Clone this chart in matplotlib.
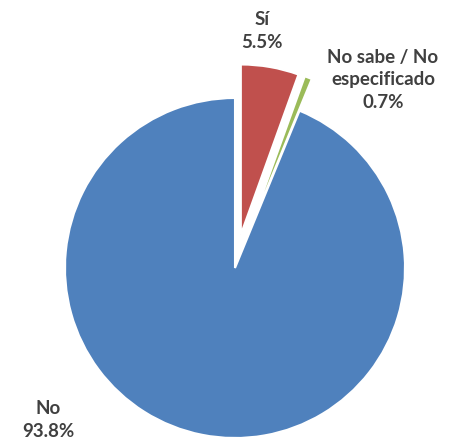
import matplotlib.pyplot as plt

# data
labels = ["Sí", "No sabe / No\nespecificado", "No"]
values = [5.5, 0.7, 93.8]
colors = ["#C0504D", "#9BBB59", "#4F81BD"]
explode_frac = [0.2, 0.2, 0.0]

W, H = 449, 446
fig = plt.figure(figsize=(W / 100, H / 100), dpi=100)
ax = fig.add_axes([0, 0, 1, 1])

R = 170
# pie's explode offset is in data units, so scale it by the radius
wedges, _ = ax.pie(values, colors=colors, explode=[e * R for e in explode_frac],
                   startangle=90, counterclock=False, radius=R,
                   center=(235, H - 268),
                   wedgeprops=dict(edgecolor="white", linewidth=1.5))
ax.set_xlim(0, W)
ax.set_ylim(0, H)
ax.set_aspect("equal")
ax.axis("off")

# label positions (pixels from top-left), Excel-style placement
label_pos = [(262, 31), (383, 80), (48, 420)]
for lab, v, (x, y) in zip(labels, values, label_pos):
    ax.text(x, H - y, f"{lab}\n{v:.1f}%", ha="center", va="center",
            fontsize=13.5, fontweight="bold", color="#404040",
            family=["Lato", "DejaVu Sans"], linespacing=1.4)

fig.savefig("out.png", dpi=100)
